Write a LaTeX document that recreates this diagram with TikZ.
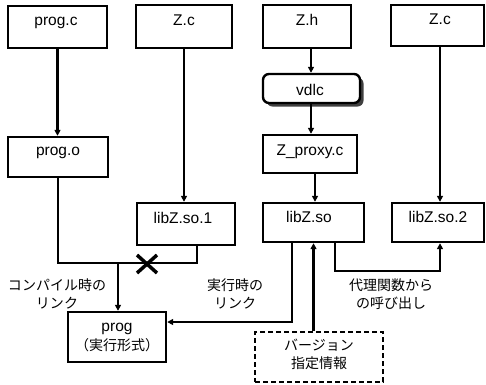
\documentclass[tikz,border=0pt]{standalone}
\usepackage{fontspec}
\setmainfont{Liberation Sans}
\newfontfamily\jp{Noto Sans CJK JP}
\usetikzlibrary{arrows.meta,shadows}
\begin{document}
\begin{tikzpicture}[x=1pt,y=-1pt,
  box/.style={draw, line width=2.4pt, inner sep=0pt},
  lat/.style={font=\fontsize{15.5}{18}\selectfont, anchor=base, inner sep=0pt},
  jlab/.style={font=\jp\fontsize{14}{18.5}\selectfont, align=center, inner sep=0pt},
  conn/.style={line width=2.4pt},
  arr/.style={conn, -{Triangle[length=6pt,width=6pt]}}]
\useasboundingbox (0,0) rectangle (486,384);
% boxes
\node[box, minimum width=99pt, minimum height=42pt] (progc) at (57.5,27) {};
\node[box, minimum width=96pt, minimum height=43pt] (Zc1) at (184,26.5) {};
\node[box, minimum width=100pt, minimum height=40pt] (progo) at (58,157) {};
\node[box, minimum width=88pt, minimum height=43pt] (Zh) at (307,26.5) {};
\node[box, rounded corners=6pt, fill=white, minimum width=97pt, minimum height=29pt,
  drop shadow={shadow xshift=3.5pt, shadow yshift=-3.5pt, fill=black!75, opacity=1}] (vdlc) at (311.5,88.5) {};
\node[box, minimum width=94pt, minimum height=38pt] (Zproxy) at (310,154) {};
\node[box, minimum width=93pt, minimum height=41pt] (Zc2) at (437.5,25.5) {};
\node[box, minimum width=98pt, minimum height=42pt] (libZso1) at (186,224) {};
\node[box, minimum width=101pt, minimum height=39pt] (libZso) at (313.5,222.5) {};
\node[box, minimum width=92pt, minimum height=39pt] (libZso2) at (438,222.5) {};
\node[box, minimum width=98pt, minimum height=50pt] (prog) at (117,337) {};
\node[box, dash pattern=on 5pt off 3pt, minimum width=128pt, minimum height=50pt] (version) at (319,357) {};
% box texts
\node[lat] (progc-t) at (56,25) {prog.c};
\node[lat] (Zc1-t) at (184,25) {Z.c};
\node[lat] (progo-t) at (58,155) {prog.o};
\node[lat] (Zh-t) at (307,25) {Z.h};
\node[lat] (vdlc-t) at (310,95) {vdlc};
\node[lat] (Zproxy-t) at (310,155) {Z\_proxy.c};
\node[lat] (Zc2-t) at (440,24) {Z.c};
\node[lat] (libZso1-t) at (183,223) {libZ.so.1};
\node[lat] (libZso-t) at (309,222) {libZ.so};
\node[lat] (libZso2-t) at (438,222) {libZ.so.2};
\node[lat] (prog-t) at (117,331) {prog};
\node[jlab, anchor=base] (prog-t2) at (117,350) {（実行形式）};
\node[jlab] (vt) at (319,354.5) {バージョン\\指定情報};
% labels
\node[jlab] (l1) at (57,294) {コンパイル時の\\リンク};
\node[jlab] (l2) at (235,294) {実行時の\\リンク};
\node[jlab] (l3) at (391,294) {代理関数から\\の呼び出し};
% coordinates
\coordinate (jn) at (118,263);
\coordinate (cross) at (147,264);
\coordinate (lr) at ([xshift=11pt]libZso1.south);
\coordinate (vx) at (311,0);
\coordinate (px) at (315,0);
\coordinate (qx) at (440,0);
\coordinate (rx) at (292,0);
\coordinate (sx) at (335,271);
% connectors
\draw[arr] (progc.south) -- (progc.south |- progo.north);
\draw[arr] (Zc1.south) -- (Zc1.south |- libZso1.north);
\draw[conn] (progo.south) |- (lr |- jn) -- (lr);
\draw[arr] (jn) -- (jn |- prog.north);
\draw[line width=3.5pt] ([shift={(-10,-9)}]cross) -- ([shift={(10,9)}]cross)
  ([shift={(-10,9)}]cross) -- ([shift={(10,-9)}]cross);
\draw[arr] (Zh.south -| vx) -- (vdlc.north -| vx);
\draw[arr] (vdlc.south -| vx) -- (Zproxy.north -| vx);
\draw[arr] (Zproxy.south -| px) -- (libZso.north -| px);
\draw[arr] (Zc2.south -| qx) -- (libZso2.north -| qx);
\draw[arr] (libZso.south -| rx) |- ([yshift=15pt]prog.east);
\draw[arr] (version.north -| libZso.south) -- (libZso.south);
\draw[arr] (libZso.south -| sx) |- (qx |- sx) -- (libZso2.south -| qx);
\end{tikzpicture}
\end{document}
